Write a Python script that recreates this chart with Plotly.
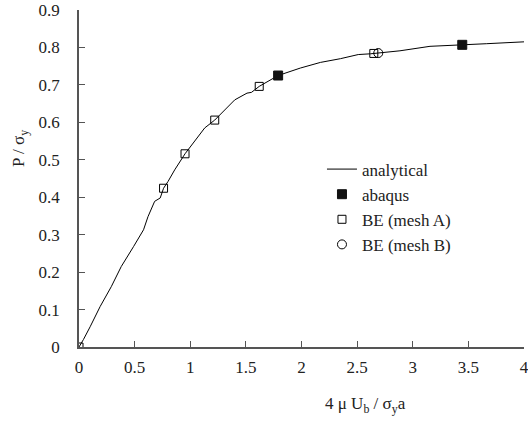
import plotly.graph_objects as go

# analytical curve
curve_x = [0, 0.04, 0.10, 0.19, 0.29, 0.38, 0.49, 0.58, 0.62, 0.68, 0.73, 0.76, 0.80, 0.86,
           0.953, 1.058, 1.13, 1.22, 1.40, 1.51, 1.55, 1.62, 1.79, 1.99, 2.17, 2.35, 2.51,
           2.62, 2.69, 2.885, 3.155, 3.33, 3.445, 3.665, 4.0]
curve_y = [0, 0.02, 0.054, 0.108, 0.161, 0.215, 0.268, 0.313, 0.348, 0.389, 0.398, 0.424,
           0.442, 0.473, 0.516, 0.558, 0.585, 0.606, 0.660, 0.678, 0.680, 0.696, 0.725,
           0.745, 0.760, 0.770, 0.781, 0.783, 0.785, 0.791, 0.803, 0.805, 0.807, 0.810,
           0.815]

abaqus_x = [1.79, 3.445]
abaqus_y = [0.725, 0.807]

meshA_x = [0.0, 0.76, 0.953, 1.22, 1.62, 2.65]
meshA_y = [0.0, 0.424, 0.516, 0.606, 0.696, 0.784]

meshB_x = [2.69]
meshB_y = [0.785]

x_ticks = [0, 0.5, 1, 1.5, 2, 2.5, 3, 3.5, 4]
x_ticklabels = ["0", "0.5", "1", "1.5", "2", "2.5", "3", "3.5", "4"]
y_ticks = [0, 0.1, 0.2, 0.3, 0.4, 0.5, 0.6, 0.7, 0.8, 0.9]
y_ticklabels = ["0", "0.1", "0.2", "0.3", "0.4", "0.5", "0.6", "0.7", "0.8", "0.9"]

FONT = "Liberation Serif"

fig = go.Figure()
fig.add_trace(go.Scatter(x=curve_x, y=curve_y, mode="lines", name="analytical",
                         line=dict(color="black", width=1)))
fig.add_trace(go.Scatter(x=abaqus_x, y=abaqus_y, mode="markers", name="abaqus",
                         marker=dict(symbol="square", size=9, color="#111111",
                                     line=dict(color="#111111", width=1))))
fig.add_trace(go.Scatter(x=meshA_x, y=meshA_y, mode="markers", name="BE (mesh A)",
                         marker=dict(symbol="square-open", size=8, color="black",
                                     line=dict(width=1))))
fig.add_trace(go.Scatter(x=meshB_x, y=meshB_y, mode="markers", name="BE (mesh B)",
                         marker=dict(symbol="circle-open", size=9, color="black",
                                     line=dict(width=1))))

axis_common = dict(showgrid=False, zeroline=False, showline=True, linecolor="#555555",
                   linewidth=1.5, ticks="inside", ticklen=6, tickcolor="#555555",
                   tickwidth=1.2, ticklabeloverflow="allow", automargin=False,
                   tickfont=dict(family=FONT, size=17, color="#222222"))

fig.update_layout(
    width=528, height=421,
    margin=dict(l=79, r=4, t=10, b=74),
    paper_bgcolor="white", plot_bgcolor="white",
    font=dict(family=FONT, size=16, color="#222222"),
    xaxis=dict(range=[0, 4], tickvals=x_ticks, ticktext=x_ticklabels, ticklabelstandoff=4,
               **axis_common),
    yaxis=dict(range=[0, 0.9], tickvals=y_ticks, ticktext=y_ticklabels, ticklabelstandoff=14,
               **axis_common),
    showlegend=True,
    legend=dict(x=0.546, y=0.58, xanchor="left", yanchor="top", bgcolor="rgba(0,0,0,0)",
                font=dict(family=FONT, size=17, color="#222222"), itemwidth=30,
                tracegroupgap=0),
    annotations=[
        dict(text="4 μ U<sub>b</sub> / σ<sub>y</sub>a", xref="paper", yref="paper",
             x=(365 - 79) / 445, y=-(405 - 347) / 337, xanchor="center", yanchor="middle",
             showarrow=False, font=dict(family=FONT, size=17, color="#222222")),
        dict(text="P / σ<sub>y</sub>", xref="paper", yref="paper", textangle=-90,
             x=-(79 - 20) / 445, y=(347 - 148) / 337, xanchor="center", yanchor="middle",
             showarrow=False, font=dict(family=FONT, size=17, color="#222222")),
    ],
)

fig.write_html("out.html")
